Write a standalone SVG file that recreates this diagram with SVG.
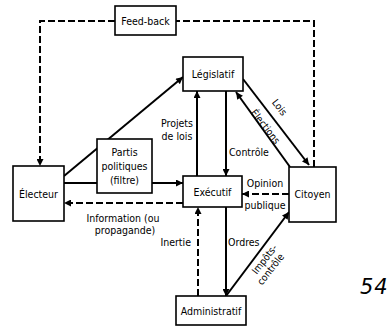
<svg xmlns="http://www.w3.org/2000/svg" width="391" height="333" viewBox="0 0 391 333">
<style>
.box{fill:#fff;stroke:#000;stroke-width:1.6}
.t{font-family:"Liberation Sans Narrow","DejaVu Sans Condensed","Arial Narrow","Liberation Sans",sans-serif;font-size:10.5px;fill:#000;text-anchor:middle}
.r{font-size:10px}
.s{fill:none;stroke:#000;stroke-width:2}
.d{fill:none;stroke:#000;stroke-width:2;stroke-dasharray:7 3}
</style>
<defs>
<marker id="ah" viewBox="0 0 10 10" refX="10" refY="5" markerWidth="9" markerHeight="7" markerUnits="userSpaceOnUse" orient="auto">
<path d="M0,0 L10,5 L0,10 z" fill="#000"/>
</marker>
</defs>
<rect width="391" height="333" fill="#fff"/>
<g id="connectors">
<path class="d" d="M314,167 V21 H176"/>
<path class="d" d="M115,21 H40 V166" marker-end="url(#ah)"/>
<path class="s" d="M64,176 L183,77" marker-end="url(#ah)"/>
<path class="s" d="M64,183 H97"/>
<path class="s" d="M152,183 H183" marker-end="url(#ah)"/>
<path class="d" d="M183,203 H64" marker-end="url(#ah)"/>
<path class="s" d="M197,176 V91" marker-end="url(#ah)"/>
<path class="s" d="M226,91 V176" marker-end="url(#ah)"/>
<path class="d" d="M289,194 H242" marker-end="url(#ah)"/>
<path class="s" d="M243,79 L309,165" marker-end="url(#ah)"/>
<path class="s" d="M290,167 L236,92" marker-end="url(#ah)"/>
<path class="s" d="M226,207 V296" marker-end="url(#ah)"/>
<path class="d" d="M198,296 V207" marker-end="url(#ah)"/>
<path class="s" d="M226,296 L289,212" marker-end="url(#ah)"/>
</g>
<g id="feedback"><rect class="box" x="115" y="6" width="61" height="29"/><text class="t" x="145.5" y="25">Feed-back</text></g>
<g id="legislatif"><rect class="box" x="183" y="57" width="60" height="34"/><text class="t" x="213" y="78">Législatif</text></g>
<g id="partis"><rect class="box" x="97" y="139" width="55" height="54"/><text class="t" x="124.5" y="156">Partis</text><text class="t" x="124.5" y="170">politiques</text><text class="t" x="124.5" y="184">(filtre)</text></g>
<g id="electeur"><rect class="box" x="13" y="166" width="51" height="55"/><text class="t" x="38.5" y="198">Électeur</text></g>
<g id="executif"><rect class="box" x="183" y="176" width="59" height="31"/><text class="t" x="212.5" y="196">Exécutif</text></g>
<g id="citoyen"><rect class="box" x="289" y="167" width="47" height="55"/><text class="t" x="312.5" y="198">Citoyen</text></g>
<g id="administratif"><rect class="box" x="176" y="296" width="70" height="29"/><text class="t" x="211" y="315">Administratif</text></g>
<g id="labels">
<text class="t" x="177" y="127">Projets</text>
<text class="t" x="177" y="140">de lois</text>
<text class="t" x="229" y="156" style="text-anchor:start">Contrôle</text>
<text class="t" x="265" y="187">Opinion</text>
<text class="t" x="265" y="209">publique</text>
<text class="t" x="123" y="222">Information (ou</text>
<text class="t" x="125" y="234">propagande)</text>
<text class="t" x="191" y="246" style="text-anchor:end">Inertie</text>
<text class="t" x="228" y="246" style="text-anchor:start">Ordres</text>
<g transform="translate(280,107) rotate(52)"><text class="t r" x="0" y="4">Lois</text></g>
<g transform="translate(265.5,126.5) rotate(52)"><text class="t r" x="0" y="3.5">Élections</text></g>
<g transform="translate(264,259) rotate(-52)"><text class="t r" x="0" y="4">Impôts-</text><text class="t r" x="-4" y="15">contrôle</text></g>
<text x="360" y="294" style="font-family:'DejaVu Sans',sans-serif;font-size:21px;fill:#000;font-style:italic;letter-spacing:1px">54</text>
</g>
</svg>
